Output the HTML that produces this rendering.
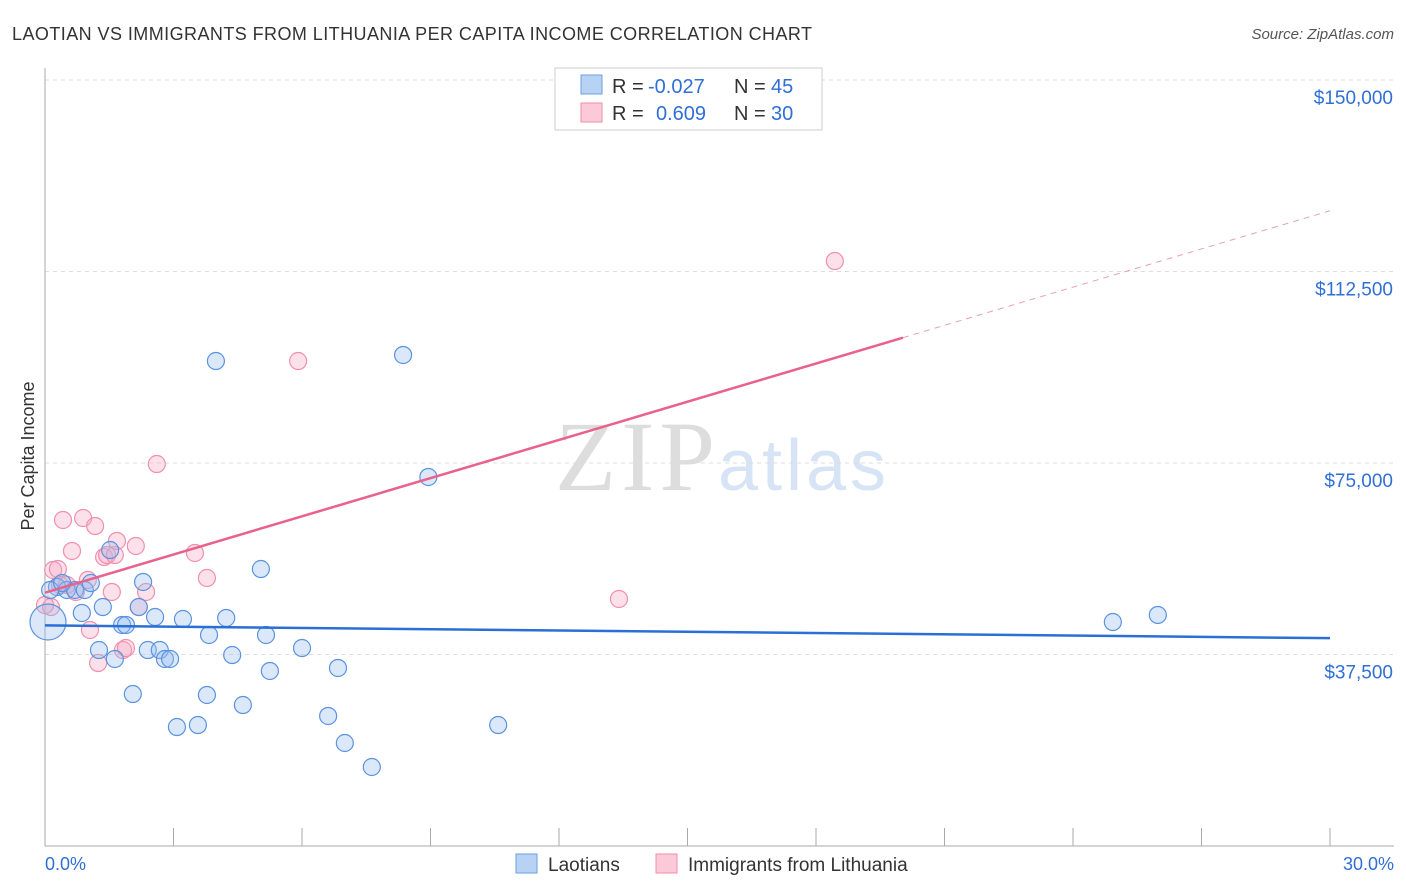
<!DOCTYPE html>
<html><head><meta charset="utf-8">
<style>
body{margin:0;background:#fff;font-family:"Liberation Sans",sans-serif;}
#wrap{position:relative;width:1406px;height:892px;overflow:hidden;}
</style></head>
<body>
<div id="wrap">
<svg id="svg" width="1406" height="892" xmlns="http://www.w3.org/2000/svg" font-family="Liberation Sans, sans-serif">
<text x="12" y="40" font-size="18" fill="#333" textLength="800">LAOTIAN VS IMMIGRANTS FROM LITHUANIA PER CAPITA INCOME CORRELATION CHART</text>
<text x="1394" y="39" font-size="15" fill="#555" font-style="italic" text-anchor="end">Source: ZipAtlas.com</text>
<text x="34" y="456" font-size="18" fill="#333" text-anchor="middle" transform="rotate(-90 34 456)">Per Capita Income</text>
<text x="555" y="490" font-size="100" fill="#ddd" textLength="160" font-family="Liberation Serif, serif">ZIP</text>
<text x="718" y="490" font-size="72" fill="#d6e4f5" textLength="168">atlas</text>
<g id="grid"></g>
<g id="pts"></g>
<g id="lines"></g>
<rect x="555" y="68" width="267" height="62" fill="#fff" stroke="#ccc"/>
<rect x="581" y="75" width="21" height="19" fill="#b8d2f3" stroke="#6e9fe0"/>
<rect x="581" y="103" width="21" height="19" fill="#fbc9d8" stroke="#ef8eaa"/>
<g font-size="20">
<text x="612" y="93" fill="#333">R =</text><text x="648" y="93" fill="#2f6fd6">-0.027</text>
<text x="734" y="93" fill="#333">N =</text><text x="771" y="93" fill="#2f6fd6">45</text>
<text x="612" y="120" fill="#333">R =</text><text x="656" y="120" fill="#2f6fd6">0.609</text>
<text x="734" y="120" fill="#333">N =</text><text x="771" y="120" fill="#2f6fd6">30</text>
</g>
<text x="45" y="870" font-size="18" fill="#2f6fd6">0.0%</text>
<text x="1394" y="870" font-size="18" fill="#2f6fd6" text-anchor="end">30.0%</text>
<rect x="516" y="854" width="21" height="19" fill="#b8d2f3" stroke="#6e9fe0"/>
<text x="548" y="871" font-size="19" fill="#333">Laotians</text>
<rect x="656" y="854" width="21" height="19" fill="#fbc9d8" stroke="#ef8eaa"/>
<text x="688" y="871" font-size="19" fill="#333">Immigrants from Lithuania</text>
</svg>
</div>
<script>
const yTicks=[37500,75000,112500,150000];
const yTickLabels=["$37,500","$75,000","$112,500","$150,000"];
const blueX=[0.07,0.28,0.51,0.70,0.93,1.07,0.86,1.26,1.35,1.52,1.63,1.80,1.89,2.05,2.19,2.29,2.40,2.57,2.68,2.80,2.92,3.08,3.22,3.57,3.78,3.83,3.99,4.23,4.37,4.62,5.04,5.16,5.25,6.00,6.61,6.84,7.00,7.63,8.36,8.95,10.58,24.93,25.98,0.12,0.40];
const blueY=[43860,50720,50130,50130,50130,51500,45630,38380,46800,57960,36620,43280,43280,29760,46800,51700,38380,44840,38380,36620,36620,23300,44450,23690,29570,41320,94970,44650,37400,27610,54240,41320,34270,38770,25460,34860,20170,15470,96150,72260,23690,43860,45240,50130,51500];
const pinkX=[0.14,0.19,0.30,0.35,0.42,0.63,0.72,0.89,1.00,1.05,1.17,1.24,1.38,1.45,1.56,1.63,1.68,1.82,1.89,2.12,2.19,2.36,2.61,3.50,3.78,5.91,13.40,18.44,0.51,0.0];
const pinkY=[46800,54050,54240,51110,63840,57770,49740,64230,52090,42300,62660,35830,56590,56980,49740,56980,59730,38380,38770,58750,46800,49740,74800,57380,52480,94970,48370,114550,51110,47190];
const blueFit=[43200,40700];
const pinkFit=[49600,124400];
const pinkSolidEnd=20.03;
const X=v=>45+v/30*1285, Y=v=>846-v/37500*191.5;
const NS="http://www.w3.org/2000/svg";
function mk(t,a,p){const e=document.createElementNS(NS,t);for(const k in a)e.setAttribute(k,a[k]);p.appendChild(e);return e;}
const grid=document.getElementById('grid');
yTicks.forEach((t,i)=>{
 const l=mk('line',{x1:45,x2:1394,y1:Y(t),y2:Y(t),stroke:'#ddd','stroke-dasharray':'4,4'},grid);
 
 
 const tx=mk('text',{x:1393,y:Y(t)+24,'font-size':19,fill:'#2f6fd6','text-anchor':'end'},grid);
 tx.textContent=yTickLabels[i];
 
 
});
const ax=mk('line',{x1:45,x2:45,y1:68,y2:846,stroke:'#aaa'},grid);


const bx=mk('line',{x1:45,x2:1394,y1:846,y2:846,stroke:'#aaa'},grid);


for(let i=1;i<=10;i++){const t=mk('line',{x1:X(i*3),x2:X(i*3),y1:828,y2:846,stroke:'#aaa'},grid);
 
 }
const pts=document.getElementById('pts');
pinkX.forEach((x,i)=>{const c=mk('circle',{cx:X(x),cy:Y(pinkY[i]),r:8.5,fill:'rgba(248,170,195,0.35)',stroke:'#f08fae','stroke-width':1.2},pts);
 
 });
blueX.forEach((x,i)=>{const c=mk('circle',{cx:X(x),cy:Y(blueY[i]),r:i==0?18:8.5,fill:'rgba(150,190,240,0.35)',stroke:'#5b93df','stroke-width':1.2},pts);
 
 });
const lines=document.getElementById('lines');
const pf=x=>pinkFit[0]+(pinkFit[1]-pinkFit[0])*x/30;
let l1=mk('line',{x1:X(0),y1:Y(blueFit[0]),x2:X(30),y2:Y(blueFit[1]),stroke:'#2a6fd6','stroke-width':2.5},lines);


let l2=mk('line',{x1:X(0),y1:Y(pf(0)),x2:X(pinkSolidEnd),y2:Y(pf(pinkSolidEnd)),stroke:'#e8628c','stroke-width':2.5},lines);


let l3=mk('line',{x1:X(pinkSolidEnd),y1:Y(pf(pinkSolidEnd)),x2:X(30),y2:Y(pf(30)),stroke:'#e8a0b8','stroke-width':1,'stroke-dasharray':'6,5'},lines);


</script>
</body></html>
